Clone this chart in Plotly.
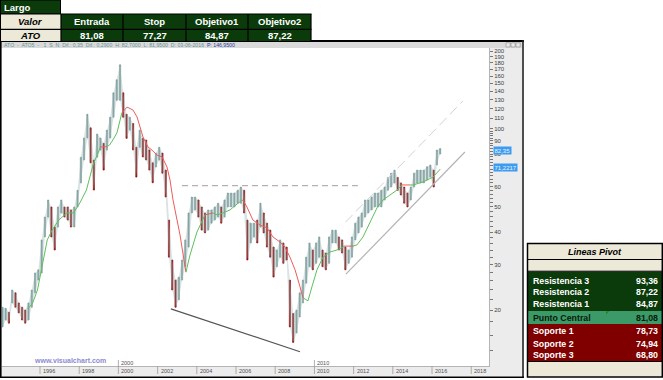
import math
import pandas as pd
import plotly.graph_objects as go

W, H = 663, 380

# ---------------- data ----------------
bar_dates = list(pd.date_range("1994-02-01", "2016-06-01", freq="2MS").strftime("%Y-%m-%d"))
bar_high = [
    20.5, 20.3, 19.6, 23.9, 23.3, 21.3,
    20.5, 20.0, 21.3, 23.9, 27.8, 28.6,
    37.3, 45.7, 53.2, 50.0, 41.8, 50.0,
    53.2, 50.0, 50.0, 48.7, 50.0, 58.0,
    77.8, 92.3, 114.0, 101.0, 75.9, 95.6,
    92.3, 88.0, 99.0, 111.0, 138.0, 155.0,
    177.0, 138.0, 114.0, 111.0, 105.0, 85.0,
    99.0, 92.0, 90.7, 83.0, 74.0, 80.7,
    85.0, 80.7, 69.4, 44.5, 31.2, 26.1,
    26.8, 31.2, 37.3, 47.4, 54.6, 54.6,
    53.2, 50.0, 47.4, 48.7, 48.7, 50.0,
    51.7, 50.0, 53.2, 56.6, 56.6, 56.6,
    58.0, 59.7, 58.0, 44.5, 43.3, 43.3,
    44.5, 51.7, 47.4, 43.3, 40.7, 35.0,
    34.1, 37.3, 36.3, 35.0, 26.1, 19.4,
    20.0, 23.3, 26.1, 32.0, 36.3, 34.1,
    36.3, 38.3, 34.1, 33.2, 38.3, 40.7,
    40.7, 38.3, 37.3, 35.0, 34.1, 38.3,
    43.3, 45.7, 47.4, 53.2, 53.2, 54.6,
    56.6, 56.6, 58.0, 59.7, 65.0, 67.5,
    69.4, 65.0, 61.9, 59.7, 56.6, 59.7,
    67.5, 69.4, 69.4, 69.4, 71.5, 72.6,
    69.4, 82.9, 84.0,
]
bar_low = [
    17.2, 18.3, 17.8, 21.3, 20.5, 19.5,
    18.3, 17.8, 18.3, 20.5, 23.3, 26.1,
    27.8, 38.3, 45.7, 38.3, 34.1, 41.8,
    47.4, 45.7, 44.5, 41.8, 41.8, 50.0,
    61.9, 75.9, 92.3, 74.0, 58.1, 77.8,
    82.9, 69.4, 82.9, 92.3, 111.0, 129.0,
    129.0, 111.0, 92.0, 99.0, 83.0, 65.2,
    85.0, 78.0, 75.9, 69.4, 62.0, 71.3,
    75.9, 67.5, 54.6, 32.0, 23.9, 20.5,
    21.9, 26.1, 29.4, 35.0, 47.4, 48.7,
    45.7, 40.7, 39.7, 40.7, 43.3, 44.5,
    45.7, 43.3, 45.7, 50.0, 50.0, 50.0,
    51.7, 51.7, 47.4, 31.2, 36.3, 38.3,
    36.3, 41.8, 39.7, 35.0, 32.0, 26.8,
    29.4, 32.0, 30.3, 31.2, 17.2, 15.0,
    16.3, 18.8, 21.3, 25.4, 29.4, 28.6,
    30.3, 32.0, 29.4, 28.6, 30.3, 36.3,
    36.3, 34.1, 33.2, 28.6, 30.3, 32.0,
    37.3, 39.7, 41.8, 45.7, 47.4, 48.7,
    50.0, 50.0, 50.0, 53.2, 58.0, 59.7,
    61.9, 58.0, 55.6, 51.7, 50.0, 53.2,
    59.7, 61.9, 61.9, 61.9, 63.5, 65.2,
    59.7, 72.6, 80.0,
]

ma_dates = [
    "1995-05-15", "1995-08-15", "1995-11-15", "1996-02-15", "1996-05-15", "1996-08-15",
    "1996-12-15", "1997-05-15", "1997-09-15", "1998-01-15", "1998-05-15", "1998-09-15",
    "1999-02-01", "1999-06-01", "1999-07-20", "1999-09-20", "1999-12-05", "2000-03-05",
    "2000-06-10", "2000-09-28", "2000-12-13", "2001-02-07", "2001-04-04", "2001-07-05",
    "2001-09-18", "2001-12-20", "2002-03-25", "2002-06-25", "2002-08-20", "2002-10-15",
    "2002-12-27", "2003-02-22", "2003-05-07", "2003-06-13", "2003-08-27", "2004-01-04",
    "2004-04-25", "2004-06-02", "2004-10-30", "2005-01-12", "2005-05-03", "2005-09-10",
    "2006-03-15", "2006-05-10", "2006-07-23", "2006-11-12", "2007-03-23", "2007-07-31",
    "2007-11-20", "2008-03-30", "2008-07-01", "2008-10-02", "2009-01-05", "2009-04-07",
    "2009-06-02", "2009-09-03", "2009-11-16", "2010-02-18", "2010-06-10", "2010-10-18",
    "2011-02-25", "2011-05-29", "2011-07-23", "2011-12-20", "2012-03-04", "2012-06-24",
    "2012-11-02", "2013-03-12", "2013-07-01", "2013-11-09", "2014-03-19", "2014-06-20",
    "2014-11-17", "2015-01-12", "2015-07-16", "2016-01-19", "2016-06-03",
]
ma_values = [
    20.2, 21.2, 23.9, 30.5, 37.3, 40.7,
    44.5, 47.4, 47.4, 51.9, 58.1, 72.6,
    85.2, 85.5, 86.7, 90.7, 96.6, 115.3,
    121.5, 118.4, 111.3, 101.8, 93.1, 85.2,
    82.9, 79.3, 78.0, 71.3, 63.5, 53.2,
    44.5, 39.0, 31.2, 28.0, 32.6, 40.0,
    45.3, 46.6, 47.4, 46.6, 47.4, 48.7,
    52.4, 53.2, 50.0, 44.5, 42.6, 41.5,
    38.3, 36.6, 35.0, 32.0, 28.6, 24.6,
    22.3, 21.7, 24.6, 28.6, 32.0, 33.5,
    34.1, 35.0, 35.3, 35.3, 35.7, 38.3,
    43.3, 49.6, 53.2, 55.6, 58.1, 60.8,
    60.8, 60.8, 62.4, 65.2, 70.0,
]
# colour of the segment that starts at each point: G = price above, R = price below
ma_side = [
    "G", "G", "G", "G", "G", "G",
    "G", "G", "G", "G", "G", "G",
    "R", "G", "G", "G", "G", "R",
    "R", "R", "R", "R", "R", "R",
    "R", "R", "R", "R", "R", "R",
    "R", "R", "R", "G", "G", "G",
    "G", "R", "G", "G", "G", "G",
    "G", "R", "R", "R", "R", "R",
    "R", "R", "R", "R", "R", "R",
    "G", "G", "G", "G", "G", "G",
    "G", "G", "R", "G", "G", "G",
    "G", "G", "G", "G", "G", "R",
    "G", "G", "G", "G", "G",
]

resist_dates = ["2003-04-01", "2012-03-20"]
resist_values = [60.4, 60.4]
lower_trend_dates = ["2002-09-05", "2009-04-07"]
lower_trend_values = [20.2, 13.8]
chan_low_dates = ["2011-08-10", "2017-09-05"]
chan_low_values = [27.5, 81.5]
chan_high_dates = ["2011-08-05", "2017-07-30"]
chan_high_values = [43.7, 128.3]

last_price = 82.35
last_price_label = "82,35"
last_ma = 71.2217
last_ma_label = "71,2217"

year_ticks = [1996, 1998, 2000, 2002, 2004, 2006, 2008, 2010, 2012, 2014, 2016, 2018]
decade_ticks = [2000, 2010]
y_major = [20, 30, 40, 50, 60, 80, 90, 100, 110, 120, 130, 140, 150, 160, 170, 180, 190, 200]
y_minor = [12, 14, 16, 18, 22, 24, 26, 28, 32, 34, 36, 38, 42, 44, 46, 48, 52, 54, 56, 58,
           62, 64, 66, 68, 70, 72, 74, 76, 78, 82, 84, 86, 88, 92, 94, 96, 98]

top_title = "Largo"
top_row_label = "Valor"
top_headers = ["Entrada", "Stop", "Objetivo1", "Objetivo2"]
top_symbol = "ATO"
top_values = ["81,08", "77,27", "84,87", "87,22"]

pivot_title = "Lineas Pivot"
pivot_labels = ["Resistencia 3", "Resistencia 2", "Resistencia 1", "Punto Central",
                "Soporte 1", "Soporte 2", "Soporte 3"]
pivot_values = ["93,36", "87,22", "84,87", "81,08", "78,73", "74,94", "68,80"]

info_text = "ATO  -  ATO5  -   1  S  N  Dif.: 0,35  Dif.: 0,2900  H: 82,7000  L: 81,9500  D: 03-06-2016"
info_tail = "P: 146,9500"
watermark = "www.visualchart.com"

# ---------------- styling helpers ----------------
FONT = "Liberation Sans, Arial, sans-serif"
DKGREEN = "#0b3a0b"
BEIGE = "#ece9d8"
DKRED = "#800000"
MIDGREEN = "#3c9a68"
BAND = "#ececec"


def px(x):
    return x / W


def py(y):
    return 1 - y / H


shapes = []
annotations = []


def rect(x0, y0, x1, y1, fill, line="rgba(0,0,0,0)", lw=0, layer="above"):
    shapes.append(dict(type="rect", xref="paper", yref="paper", x0=px(x0), x1=px(x1),
                       y0=py(y1), y1=py(y0), fillcolor=fill,
                       line=dict(color=line, width=lw), layer=layer))


def hline(x0, x1, y, color="black", w=1):
    shapes.append(dict(type="line", xref="paper", yref="paper", x0=px(x0), x1=px(x1),
                       y0=py(y), y1=py(y), line=dict(color=color, width=w)))


def vline(x, y0, y1, color="black", w=1):
    shapes.append(dict(type="line", xref="paper", yref="paper", x0=px(x), x1=px(x),
                       y0=py(y0), y1=py(y1), line=dict(color=color, width=w)))


def text(x, y, s, size=9, color="black", anchor="center", bold=True, italic=False):
    t = s
    if bold:
        t = "<b>" + t + "</b>"
    if italic:
        t = "<i>" + t + "</i>"
    annotations.append(dict(xref="paper", yref="paper", x=px(x), y=py(y),
                            text=t, showarrow=False, xanchor=anchor, yanchor="middle",
                            font=dict(family=FONT, size=size, color=color)))


# ---------------- traces ----------------
fig = go.Figure()

# light band behind the bars (range of every period)
fig.add_trace(go.Scatter(
    x=bar_dates + bar_dates[::-1], y=bar_high + bar_low[::-1], mode="lines",
    fill="toself", fillcolor="rgba(150,175,175,0.35)", line=dict(width=0),
    showlegend=False, hoverinfo="skip"))

mids = [(h + l) / 2 for h, l in zip(bar_high, bar_low)]
opens, closes = [], []
for i, (h, l) in enumerate(zip(bar_high, bar_low)):
    up = i == 0 or mids[i] >= mids[i - 1]
    opens.append(l if up else h)
    closes.append(h if up else l)

fig.add_trace(go.Candlestick(
    x=bar_dates, open=opens, high=bar_high, low=bar_low, close=closes,
    increasing=dict(line=dict(color="#7a9a9a", width=0.6), fillcolor="#86a4a4"),
    decreasing=dict(line=dict(color="#8b0a0a", width=0.6), fillcolor="#8b0a0a"),
    whiskerwidth=0, showlegend=False, hoverinfo="skip"))

# moving average, split by side
i = 0
n = len(ma_dates)
while i < n - 1:
    side = ma_side[i]
    j = i
    while j < n - 1 and ma_side[j] == side:
        j += 1
    fig.add_trace(go.Scatter(
        x=ma_dates[i:j + 1], y=ma_values[i:j + 1], mode="lines",
        line=dict(color="#5cc05c" if side == "G" else "#f05a5a", width=1),
        showlegend=False, hoverinfo="skip"))
    i = j

fig.add_trace(go.Scatter(x=resist_dates, y=resist_values, mode="lines",
                         line=dict(color="#a89c9c", width=1, dash="6px,4px"),
                         showlegend=False, hoverinfo="skip"))
fig.add_trace(go.Scatter(x=lower_trend_dates, y=lower_trend_values, mode="lines",
                         line=dict(color="#555555", width=1.2),
                         showlegend=False, hoverinfo="skip"))
fig.add_trace(go.Scatter(x=chan_low_dates, y=chan_low_values, mode="lines",
                         line=dict(color="#b4b4b4", width=1.2),
                         showlegend=False, hoverinfo="skip"))
fig.add_trace(go.Scatter(x=chan_high_dates, y=chan_high_values, mode="lines",
                         line=dict(color="#d2d2d2", width=1, dash="10px,5px"),
                         showlegend=False, hoverinfo="skip"))

# ---------------- chart window frame ----------------
rect(489, 48, 522, 366, BAND, layer="below")
rect(1.5, 366, 522, 376.5, BAND, layer="below")
rect(1, 42, 522, 48, "#dadada", layer="below")
hline(0, 524, 41, "black", 2)
vline(0.8, 40, 378, "black", 1.6)
vline(523, 40, 378, "#222222", 1.6)
hline(0, 524, 377.3, "black", 1.6)
for bx in (506, 511, 516):
    rect(bx, 42.8, bx + 4.2, 47, "#e8e8e8", "#8a8a8a", 0.6)

annotations.append(dict(xref="paper", yref="paper", x=px(2), y=py(44.8),
                        text=info_text + "  <span style='color:#2a3aa8'>" + info_tail + "</span>",
                        showarrow=False, xanchor="left", yanchor="middle",
                        font=dict(family=FONT, size=5.2, color="#5f9595")))

# x axis ticks / labels
for yr in year_ticks:
    d = f"{yr}-01-01"
    shapes.append(dict(type="line", xref="x", yref="paper", x0=d, x1=d,
                       y0=py(366), y1=py(374), line=dict(color="#9a9a9a", width=0.8)))
    annotations.append(dict(xref="x", yref="paper", x=d, y=py(371), text=str(yr),
                            showarrow=False, xanchor="left", yanchor="middle", xshift=1,
                            font=dict(family=FONT, size=5.5, color="#505050")))
for yr in decade_ticks:
    d = f"{yr}-01-01"
    shapes.append(dict(type="line", xref="x", yref="paper", x0=d, x1=d,
                       y0=py(360), y1=py(366), line=dict(color="#9a9a9a", width=0.8)))
    annotations.append(dict(xref="x", yref="paper", x=d, y=py(362.5), text=str(yr),
                            showarrow=False, xanchor="left", yanchor="middle", xshift=1,
                            font=dict(family=FONT, size=5.5, color="#505050")))

annotations.append(dict(xref="paper", yref="paper", x=px(32), y=py(360.5), text="<b>" + watermark + "</b>",
                        showarrow=False, xanchor="left", yanchor="middle",
                        font=dict(family=FONT, size=7, color="#8c8cd0")))

# last value boxes on the price axis
for val, lab in ((last_price, last_price_label), (last_ma, last_ma_label)):
    annotations.append(dict(xref="paper", yref="y", x=px(492.5), y=math.log10(val), text=lab,
                            showarrow=False, xanchor="left", yanchor="middle",
                            bgcolor="#3c9cf0", borderpad=0.5,
                            font=dict(family=FONT, size=6, color="#eaf4ff")))

# ---------------- top-left table ----------------
rect(0, 0, 60.5, 14, DKGREEN, "black", 1)
rect(0, 14, 61, 29, BEIGE)
rect(0, 29, 61, 41, BEIGE)
rect(61, 14, 311, 41, DKGREEN)
hline(0, 311.5, 14, "black", 1.2)
hline(0, 311.5, 29.3, "black", 1.2)
vline(0.5, 0, 41, "black", 1)
for vx in (61, 123, 186, 248, 311):
    vline(vx, 14, 41, "black", 1.2)
text(2, 7.3, top_title, 9.5, "white", "left")
text(30.5, 21.7, top_row_label, 9.5, "black", "center", italic=True)
text(30.5, 35.3, top_symbol, 9.5, "black", "center", italic=True)
centers = [92, 154.5, 217, 279.5]
for cx, hd, vl in zip(centers, top_headers, top_values):
    text(cx, 21.7, hd, 9.5, "white")
    text(cx, 35.3, vl, 9.5, "white")

# ---------------- pivot table ----------------
PX0, PX1 = 527.5, 662.3
rect(PX0, 244, PX1, 259, BEIGE)
rect(PX0, 260, PX1, 271, BEIGE)
rect(PX0, 271.5, PX1, 311, DKGREEN)
rect(PX0, 311, PX1, 324, MIDGREEN)
rect(PX0, 324, PX1, 361, DKRED)
rect(PX0, 362, PX1, 376, BEIGE)
hline(PX0, PX1, 259.5, "black", 1)
hline(PX0, PX1, 271.2, "black", 1)
hline(PX0, PX1, 361.5, "black", 1)
rect(PX0, 243.5, PX1, 377, "rgba(0,0,0,0)", "black", 1.5)
text((PX0 + PX1) / 2, 251.5, pivot_title, 9, "black", "center", italic=True)
row_y = [280.7, 292.3, 303.5, 318.3, 331.3, 343.5, 355.3]
for k, (lab, val, ry) in enumerate(zip(pivot_labels, pivot_values, row_y)):
    col = "#0a1a0a" if k == 3 else "white"
    text(531, ry, lab, 8.8, col, "left")
    text(659.5, ry, val, 8.8, col, "right")
shapes.append(dict(type="path", xref="paper", yref="paper",
                   path=f"M {px(606)},{py(311.3)} L {px(609.5)},{py(311.3)} L {px(606)},{py(314.5)} Z",
                   fillcolor="#1e8c1e", line=dict(width=0)))

# ---------------- layout ----------------
fig.update_layout(
    width=W, height=H, autosize=False,
    margin=dict(l=0, r=0, t=0, b=0),
    paper_bgcolor="white", plot_bgcolor="white",
    showlegend=False, boxgap=0.45,
    shapes=shapes, annotations=annotations,
    xaxis=dict(type="date", range=["1994-01-23", "2018-11-28"], domain=[px(2), px(489)],
               showgrid=False, zeroline=False, showticklabels=False, ticks="",
               showline=True, linecolor="#b4b4b4", linewidth=1,
               rangeslider=dict(visible=False), fixedrange=True),
    yaxis=dict(type="log", range=[1.0849, 2.3127], domain=[py(366), py(48)], side="right",
               tickvals=y_major + y_minor,
               ticktext=[str(v) for v in y_major] + ["" for _ in y_minor],
               ticks="outside", ticklen=3, tickwidth=0.8, tickcolor="#777777",
               tickfont=dict(family=FONT, size=6, color="#404040"),
               showgrid=False, zeroline=False,
               showline=True, linecolor="#b4b4b4", linewidth=1, fixedrange=True),
)

fig.write_html("out.html", config={"displayModeBar": False},
               post_script="document.body.style.margin='0px';document.body.style.padding='0px';")
